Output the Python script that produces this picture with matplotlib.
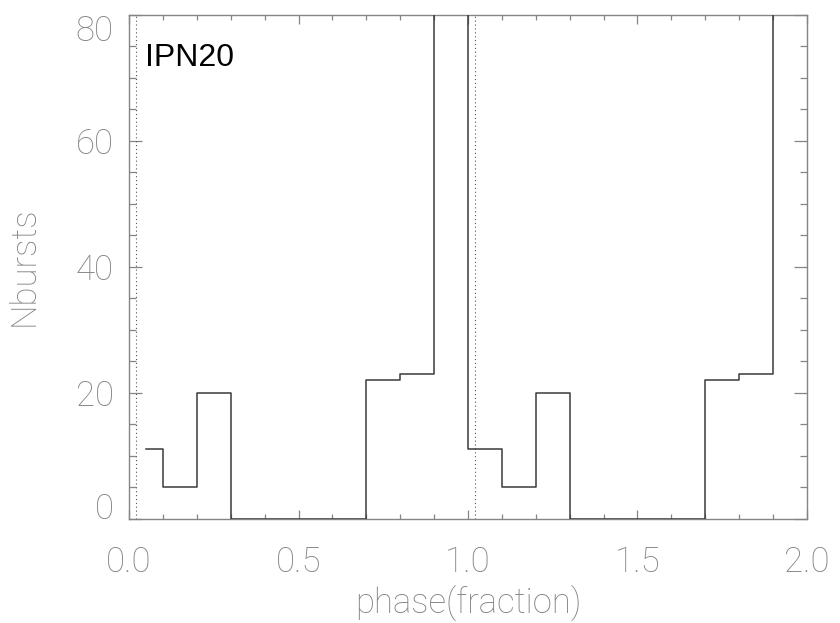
import matplotlib
matplotlib.use('Agg')
import matplotlib.pyplot as plt
from matplotlib.ticker import MultipleLocator, FormatStrFormatter

# bin centres (phase, shown twice) and burst counts per bin
phase = [0.05, 0.15, 0.25, 0.35, 0.45, 0.55, 0.65, 0.75, 0.85, 0.95,
         1.05, 1.15, 1.25, 1.35, 1.45, 1.55, 1.65, 1.75, 1.85, 1.95]
nbursts = [11, 5, 20, 0, 0, 0, 0, 22, 23, 90,
           11, 5, 20, 0, 0, 0, 0, 22, 23, 90]
marker_phases = [0.02, 1.02]
label = 'IPN20'

grey = '#858585'
plt.rcParams['font.family'] = ['Roboto', 'DejaVu Sans']

fig = plt.figure(figsize=(8.4, 6.23), dpi=100)
ax = fig.add_axes([0.1536, 0.1675, 0.8071, 0.8090])

ax.step(phase, nbursts, where='mid', color='#3a3a3a', lw=1.1, zorder=3)
for xm in marker_phases:
    ax.axvline(xm, color='#555555', lw=0.8, linestyle=(0, (1, 2.5)))

ax.text(0.024, 0.913, label, transform=ax.transAxes, fontsize=23,
        family='Liberation Sans', color='black', va='center', ha='left')

ax.set_xlim(0, 2.0)
ax.set_ylim(0, 80)
ax.xaxis.set_major_locator(MultipleLocator(0.5))
ax.xaxis.set_minor_locator(MultipleLocator(0.1))
ax.yaxis.set_major_locator(MultipleLocator(20))
ax.yaxis.set_minor_locator(MultipleLocator(5))
ax.xaxis.set_major_formatter(FormatStrFormatter('%.1f'))

ax.tick_params(which='both', direction='in', top=True, right=True,
               color=grey, labelcolor=grey, labelsize=25, width=0.9)
ax.tick_params(axis='x', which='major', length=6.5, pad=19)
ax.tick_params(axis='x', which='minor', length=3.3)
ax.tick_params(axis='y', which='major', length=9.5, pad=11)
ax.tick_params(axis='y', which='minor', length=5)
for lab in ax.get_xticklabels() + ax.get_yticklabels():
    lab.set_fontweight('light')
# end labels are kept inside the axis range
for val, lab in zip(ax.get_yticks(), ax.get_yticklabels()):
    if val == 80:
        lab.set_verticalalignment('top')
    elif val == 0:
        lab.set_verticalalignment('baseline')
for sp in ax.spines.values():
    sp.set_color(grey)
    sp.set_linewidth(1.0)

ax.set_xlabel('phase(fraction)', fontsize=25, color=grey, fontweight='light', labelpad=5)
ax.set_ylabel('Nbursts', fontsize=25, color=grey, fontweight='light', labelpad=25)

plt.savefig('out.png', dpi=100)
plt.close()
